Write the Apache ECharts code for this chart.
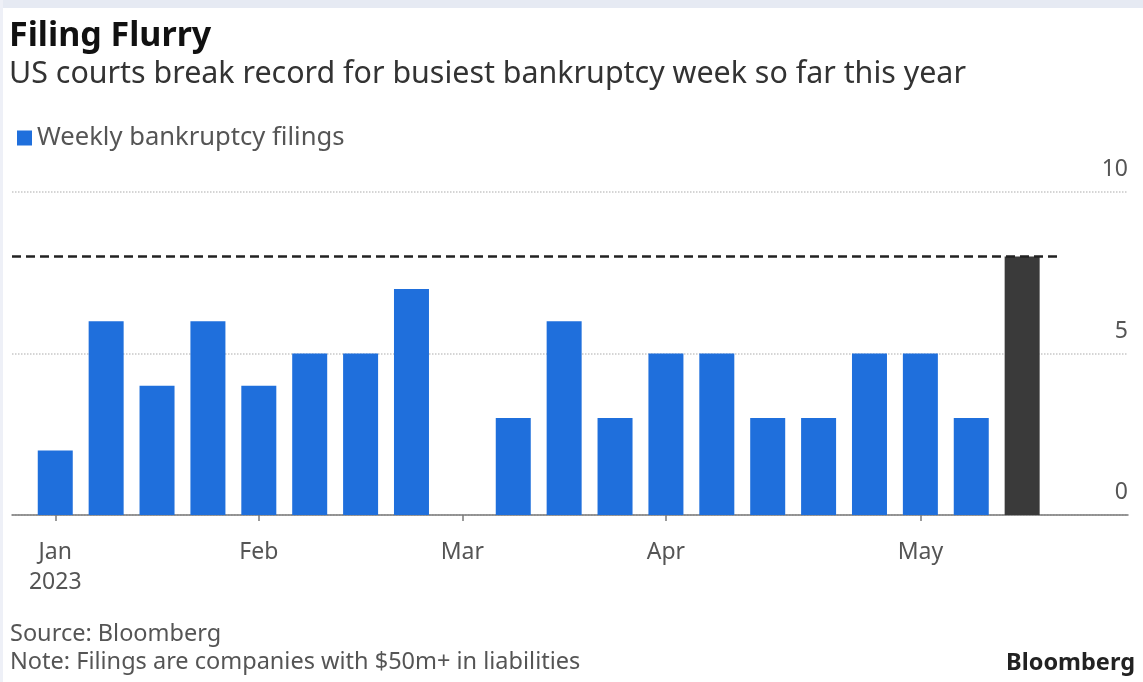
<!DOCTYPE html>
<html>
<head>
<meta charset="utf-8">
<script src="https://cdn.jsdelivr.net/npm/echarts@6/dist/echarts.min.js"></script>
<style>
  html, body { margin: 0; padding: 0; background: #ffffff; }
  #chart { width: 1143px; height: 682px; }
</style>
</head>
<body>
<div id="chart"></div>
<script>
// Weekly bankruptcy filings, first week of January 2023 onward
const weeklyFilings = [2, 6, 4, 6, 4, 5, 5, 7, 0, 3, 6, 3, 5, 5, 3, 3, 5, 5, 3, 8];
// Month tick labels, keyed by week index
const monthTickIndex = [0, 4, 8, 12, 17];
const monthTickLabels = ['Jan\n2023', 'Feb', 'Mar', 'Apr', 'May'];
// Y axis ticks
const yTicks = [0, 5, 10];

const recordIndex = weeklyFilings.length - 1;
const recordValue = weeklyFilings[recordIndex];

const BLUE = '#1f6fdc';
const DARK = '#3a3a3a';
const FONT = '"Noto Sans"';

const chart = echarts.init(document.getElementById('chart'));

const barData = weeklyFilings.map((v, i) => ({
  value: [i, v],
  itemStyle: { color: i === recordIndex ? DARK : BLUE }
}));

chart.setOption({
  backgroundColor: '#ffffff',
  animation: false,
  textStyle: { fontFamily: FONT },
  graphic: [
    { type: 'rect', shape: { x: 0, y: 0, width: 1143, height: 8 }, style: { fill: '#e6eaf3' } },
    { type: 'rect', shape: { x: 0, y: 0, width: 3, height: 682 }, style: { fill: '#eef0f7' } },
    { type: 'text', left: 9, top: 19, style: { text: 'Filing Flurry', font: 'bold 34px ' + FONT, fill: '#111' } },
    { type: 'text', left: 9, top: 59, style: { text: 'US courts break record for busiest bankruptcy week so far this year', font: '30.4px ' + FONT, fill: '#333' } },
    { type: 'text', left: 10, top: 622, style: { text: 'Source: Bloomberg', font: '23.5px ' + FONT, fill: '#555' } },
    { type: 'text', left: 10, top: 650, style: { text: 'Note: Filings are companies with $50m+ in liabilities', font: '23.5px ' + FONT, fill: '#555' } },
    { type: 'text', right: 8, top: 651, style: { text: 'Bloomberg', font: 'bold 23.5px ' + FONT, fill: '#222' } }
  ],
  legend: {
    left: 12, top: 120,
    icon: 'rect', itemWidth: 15, itemHeight: 15, itemGap: 10,
    textStyle: { fontSize: 25.6, color: '#555', fontFamily: FONT },
    data: [{ name: 'Weekly bankruptcy filings', itemStyle: { color: BLUE } }]
  },
  grid: { left: 12, right: 15, top: 192, bottom: 167 },
  xAxis: {
    type: 'value',
    min: -0.85,
    max: 21.08,
    splitLine: { show: false },
    axisLine: { show: true, onZero: false, lineStyle: { color: '#7a7a7a', width: 1.5 } },
    axisTick: { show: true, customValues: monthTickIndex, length: 6, lineStyle: { color: '#7a7a7a', width: 1.5 } },
    axisLabel: {
      customValues: monthTickIndex,
      formatter: v => monthTickLabels[monthTickIndex.indexOf(v)] || '',
      color: '#555', fontSize: 23, lineHeight: 30, margin: 22, fontFamily: FONT
    }
  },
  yAxis: {
    type: 'value',
    position: 'right',
    min: 0, max: 10, interval: 5,
    axisLine: { show: false },
    axisTick: { show: false },
    splitLine: { lineStyle: { color: '#c8c8c8', type: 'dotted', width: 1.5 } },
    axisLabel: {
      inside: true, margin: 0, verticalAlign: 'bottom', align: 'right',
      padding: [0, 0, 11, 0],
      color: '#555', fontSize: 23, fontFamily: FONT,
      formatter: v => yTicks.includes(v) ? String(v) : ''
    }
  },
  series: [{
    name: 'Weekly bankruptcy filings',
    type: 'bar',
    barWidth: 35,
    data: barData,
    markLine: {
      silent: true,
      symbol: 'none',
      label: { show: false },
      lineStyle: { color: '#222', type: [9, 5], width: 2.5 },
      data: [[{ coord: [-0.85, recordValue] }, { coord: [recordIndex + 0.72, recordValue] }]]
    }
  }]
});
</script>
</body>
</html>
